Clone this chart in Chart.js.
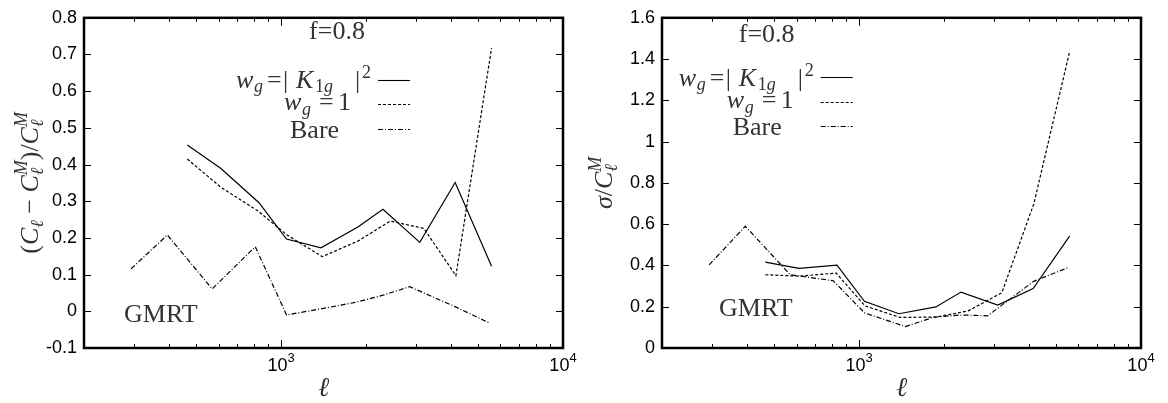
<!DOCTYPE html>
<html>
<head>
<meta charset="utf-8">
<title>GMRT angular power spectrum: bias and scatter, f=0.8</title>
<script src="https://cdn.jsdelivr.net/npm/chart.js@4.4.1/dist/chart.umd.min.js"></script>
<style>
  html, body { margin: 0; padding: 0; background: #fff; }
  #wrap { position: relative; width: 1168px; height: 403px; }
  canvas { position: absolute; top: 0; }
  #biasChart { left: 0; }
  #sigmaChart { left: 584px; }
</style>
</head>
<body>
<div id="wrap">
  <canvas id="biasChart" width="584" height="403"></canvas>
  <canvas id="sigmaChart" width="584" height="403"></canvas>
</div>
<script>
// multipole bins for each estimator
const ellK    = [465, 612, 835, 1045, 1385, 1873, 2298, 3105, 4145, 5580];
const ellOne  = [465, 612, 830, 1050, 1400, 1880, 2440, 3210, 4170, 5580];
const ellBare = [294, 395, 570, 810, 1046, 1460, 1850, 2300, 2860, 4160, 5520];

// left: (C_l - C_l^M) / C_l^M
const biasK    = [0.453, 0.389, 0.296, 0.197, 0.173, 0.230, 0.278, 0.188, 0.351, 0.123];
const biasOne  = [0.415, 0.338, 0.273, 0.208, 0.149, 0.192, 0.246, 0.226, 0.097, 0.718];
const biasBare = [0.116, 0.208, 0.061, 0.176, -0.010, 0.010, 0.025, 0.044, 0.067, 0.012, -0.033];

// right: sigma / C_l^M
const sigmaK    = [0.416, 0.386, 0.401, 0.226, 0.166, 0.199, 0.271, 0.208, 0.288, 0.542];
const sigmaOne  = [0.355, 0.348, 0.363, 0.204, 0.148, 0.150, 0.180, 0.268, 0.700, 1.435];
const sigmaBare = [0.403, 0.590, 0.355, 0.326, 0.170, 0.104, 0.150, 0.160, 0.156, 0.323, 0.390];

const ellRange   = [200, 10000];
const biasRange  = [-0.1, 0.8];
const sigmaRange = [0, 1.6];

const SERIF = '"Liberation Serif", "DejaVu Serif", serif';
const SANS = '"Liberation Sans", Arial, sans-serif';
const INK = '#333';
const FS = 26;
const DASHES = { K: [], one: [3, 2], bare: [5, 2, 1, 2] };

function setFont(ctx, size, italic) {
  ctx.font = (italic ? 'italic ' : '') + size + 'px ' + SERIF;
}

// runs laid out one after another; "over" stacks a superscript above the previous subscript
function richText(ctx, x, y, runs, draw) {
  let cx = x, prev = x;
  for (const r of runs) {
    setFont(ctx, r.s || FS, r.i);
    const start = r.over ? prev : cx + (r.gap || 0);
    if (draw) ctx.fillText(r.t, start, y + (r.dy || 0));
    const end = start + ctx.measureText(r.t).width;
    if (!r.over) prev = start;
    cx = Math.max(cx, end);
  }
  return cx - x;
}

// runs at fixed offsets from x
function placeText(ctx, x, y, runs) {
  for (const r of runs) {
    setFont(ctx, r.s || FS, r.i);
    ctx.fillText(r.t, x + r.at, y + (r.dy || 0));
  }
}

const legendRows = [
  { dash: DASHES.K, dy: 8.5, runs: [
    { t: 'w', i: 1, at: -142 }, { t: 'g', i: 1, s: 18, dy: 4, at: -124 },
    { t: '=', at: -111 }, { t: '|', at: -95 },
    { t: 'K', i: 1, at: -82 }, { t: '1', s: 18, dy: 4, at: -63 }, { t: 'g', i: 1, s: 18, dy: 4, at: -54 },
    { t: '|', at: -23 }, { t: '2', s: 18, dy: -10, at: -16 }] },
  { dash: DASHES.one, dy: 6, runs: [
    { t: 'w', i: 1, at: -94 }, { t: 'g', i: 1, s: 18, dy: 5, at: -76 },
    { t: '=', at: -59 }, { t: '1', at: -40 }] },
  { dash: DASHES.bare, dy: 9, runs: [{ t: 'Bare', at: -88 }] }
];

const ellSub = { t: '\u2113', i: 1, s: 18, dy: 5 };
const mSup = { t: 'M', i: 1, s: 18, dy: -11, over: 1 };
const biasTitle = [
  { t: '(' }, { t: 'C', i: 1 }, ellSub, { t: ' \u2212 ' }, { t: 'C', i: 1 }, ellSub, mSup,
  { t: ')/' }, { t: 'C', i: 1 }, ellSub, mSup
];
const sigmaTitle = [{ t: '\u03c3', i: 1 }, { t: '/' }, { t: 'C', i: 1 }, ellSub, mSup];

function gnuplotFrame(cfg) {
  return {
    id: 'gnuplotFrame',
    afterDatasetsDraw(chart) {
      const { ctx, chartArea: a, scales: { x, y } } = chart;
      ctx.save();
      ctx.strokeStyle = '#000';
      ctx.lineWidth = 1;
      ctx.beginPath();
      for (const t of y.ticks) {
        const py = Math.round(y.getPixelForValue(t.value)) + 0.5;
        ctx.moveTo(a.left, py); ctx.lineTo(a.left + 7, py);
        ctx.moveTo(a.right, py); ctx.lineTo(a.right - 7, py);
      }
      const decades = [];
      for (const t of x.ticks) {
        const e = Math.floor(Math.log10(t.value) + 1e-9);
        const m = t.value / Math.pow(10, e);
        if (Math.abs(m - Math.round(m)) > 1e-6) continue;
        const len = Math.round(m) === 1 ? 8 : 4;
        if (len === 8) decades.push({ v: t.value, e });
        const px = Math.round(x.getPixelForValue(t.value)) + 0.5;
        ctx.moveTo(px, a.bottom); ctx.lineTo(px, a.bottom - len);
        ctx.moveTo(px, a.top); ctx.lineTo(px, a.top + len);
      }
      ctx.stroke();
      ctx.lineWidth = 2.5;
      ctx.strokeRect(a.left, a.top, a.right - a.left, a.bottom - a.top);

      // decade labels as 10^n
      ctx.fillStyle = '#000';
      ctx.textBaseline = 'alphabetic';
      for (const d of decades) {
        ctx.font = '18px ' + SANS;
        const w1 = ctx.measureText('10').width;
        ctx.font = '13px ' + SANS;
        const w2 = ctx.measureText(String(d.e)).width;
        const px = x.getPixelForValue(d.v) - (w1 + w2) / 2;
        ctx.font = '18px ' + SANS;
        ctx.fillText('10', px, 371);
        ctx.font = '13px ' + SANS;
        ctx.fillText(String(d.e), px + w1, 362);
      }
      ctx.restore();
    },
    afterDraw(chart) {
      const { ctx, chartArea: a } = chart;
      ctx.save();
      ctx.fillStyle = INK;
      ctx.textBaseline = 'alphabetic';

      setFont(ctx, FS, false);
      ctx.textAlign = 'center';
      ctx.fillText('f=0.8', cfg.fx, cfg.fy);
      ctx.textAlign = 'left';
      ctx.fillText('GMRT', cfg.gx, cfg.gy);

      // key
      legendRows.forEach((row, i) => {
        const ly = cfg.keyY + i * 24.5;
        placeText(ctx, cfg.keyX, ly + row.dy, row.runs);
        ctx.beginPath();
        ctx.strokeStyle = '#000';
        ctx.lineWidth = 1.1;
        ctx.setLineDash(row.dash);
        ctx.moveTo(cfg.keyX, Math.round(ly) + 0.5);
        ctx.lineTo(cfg.keyX + 32, Math.round(ly) + 0.5);
        ctx.stroke();
      });
      ctx.setLineDash([]);

      // axis titles
      setFont(ctx, 27, true);
      ctx.textAlign = 'center';
      ctx.fillText('\u2113', (a.left + a.right) / 2, 396);
      ctx.textAlign = 'left';
      const w = richText(ctx, 0, 0, cfg.title, false);
      ctx.translate(cfg.tx, (a.top + a.bottom) / 2);
      ctx.rotate(-Math.PI / 2);
      richText(ctx, -w / 2, 0, cfg.title, true);
      ctx.restore();
    }
  };
}

function series(xs, ys, dash) {
  return {
    data: xs.map((x, i) => ({ x, y: ys[i] })),
    borderColor: '#000',
    borderWidth: 1.2,
    borderDash: dash,
    pointRadius: 0,
    tension: 0,
    fill: false
  };
}

function makePanel(id, cfg) {
  return new Chart(document.getElementById(id), {
    type: 'line',
    data: {
      datasets: [
        series(ellK, cfg.k, DASHES.K),
        series(ellOne, cfg.one, DASHES.one),
        series(ellBare, cfg.bare, DASHES.bare)
      ]
    },
    options: {
      responsive: false,
      animation: false,
      devicePixelRatio: 1,
      layout: { padding: { top: cfg.area.top, right: 584 - cfg.area.right, left: 0, bottom: 0 } },
      plugins: { legend: { display: false }, tooltip: { enabled: false } },
      scales: {
        x: {
          type: 'logarithmic',
          min: ellRange[0], max: ellRange[1],
          grid: { display: false, drawTicks: false },
          border: { display: false },
          ticks: { display: false },
          afterFit: s => { s.height = 403 - cfg.area.bottom; }
        },
        y: {
          min: cfg.range[0], max: cfg.range[1],
          grid: { display: false, drawTicks: false },
          border: { display: false },
          ticks: {
            stepSize: cfg.step,
            padding: 7,
            color: '#000',
            font: { family: SANS, size: 18 },
            callback: v => String(+v.toFixed(1))
          },
          afterFit: s => { s.width = cfg.area.left; }
        }
      }
    },
    plugins: [gnuplotFrame(cfg)]
  });
}

makePanel('biasChart', {
  k: biasK, one: biasOne, bare: biasBare,
  range: biasRange, step: 0.1,
  area: { left: 84, right: 563, top: 11, bottom: 348 },
  fx: 337, fy: 39, gx: 124, gy: 321.5,
  keyX: 378, keyY: 79.5,
  tx: 38, title: biasTitle
});

makePanel('sigmaChart', {
  k: sigmaK, one: sigmaOne, bare: sigmaBare,
  range: sigmaRange, step: 0.2,
  area: { left: 78, right: 557, top: 12, bottom: 348 },
  fx: 182.7, fy: 41.7, gx: 135, gy: 316,
  keyX: 236.7, keyY: 77,
  tx: 28, title: sigmaTitle
});
</script>
</body>
</html>
